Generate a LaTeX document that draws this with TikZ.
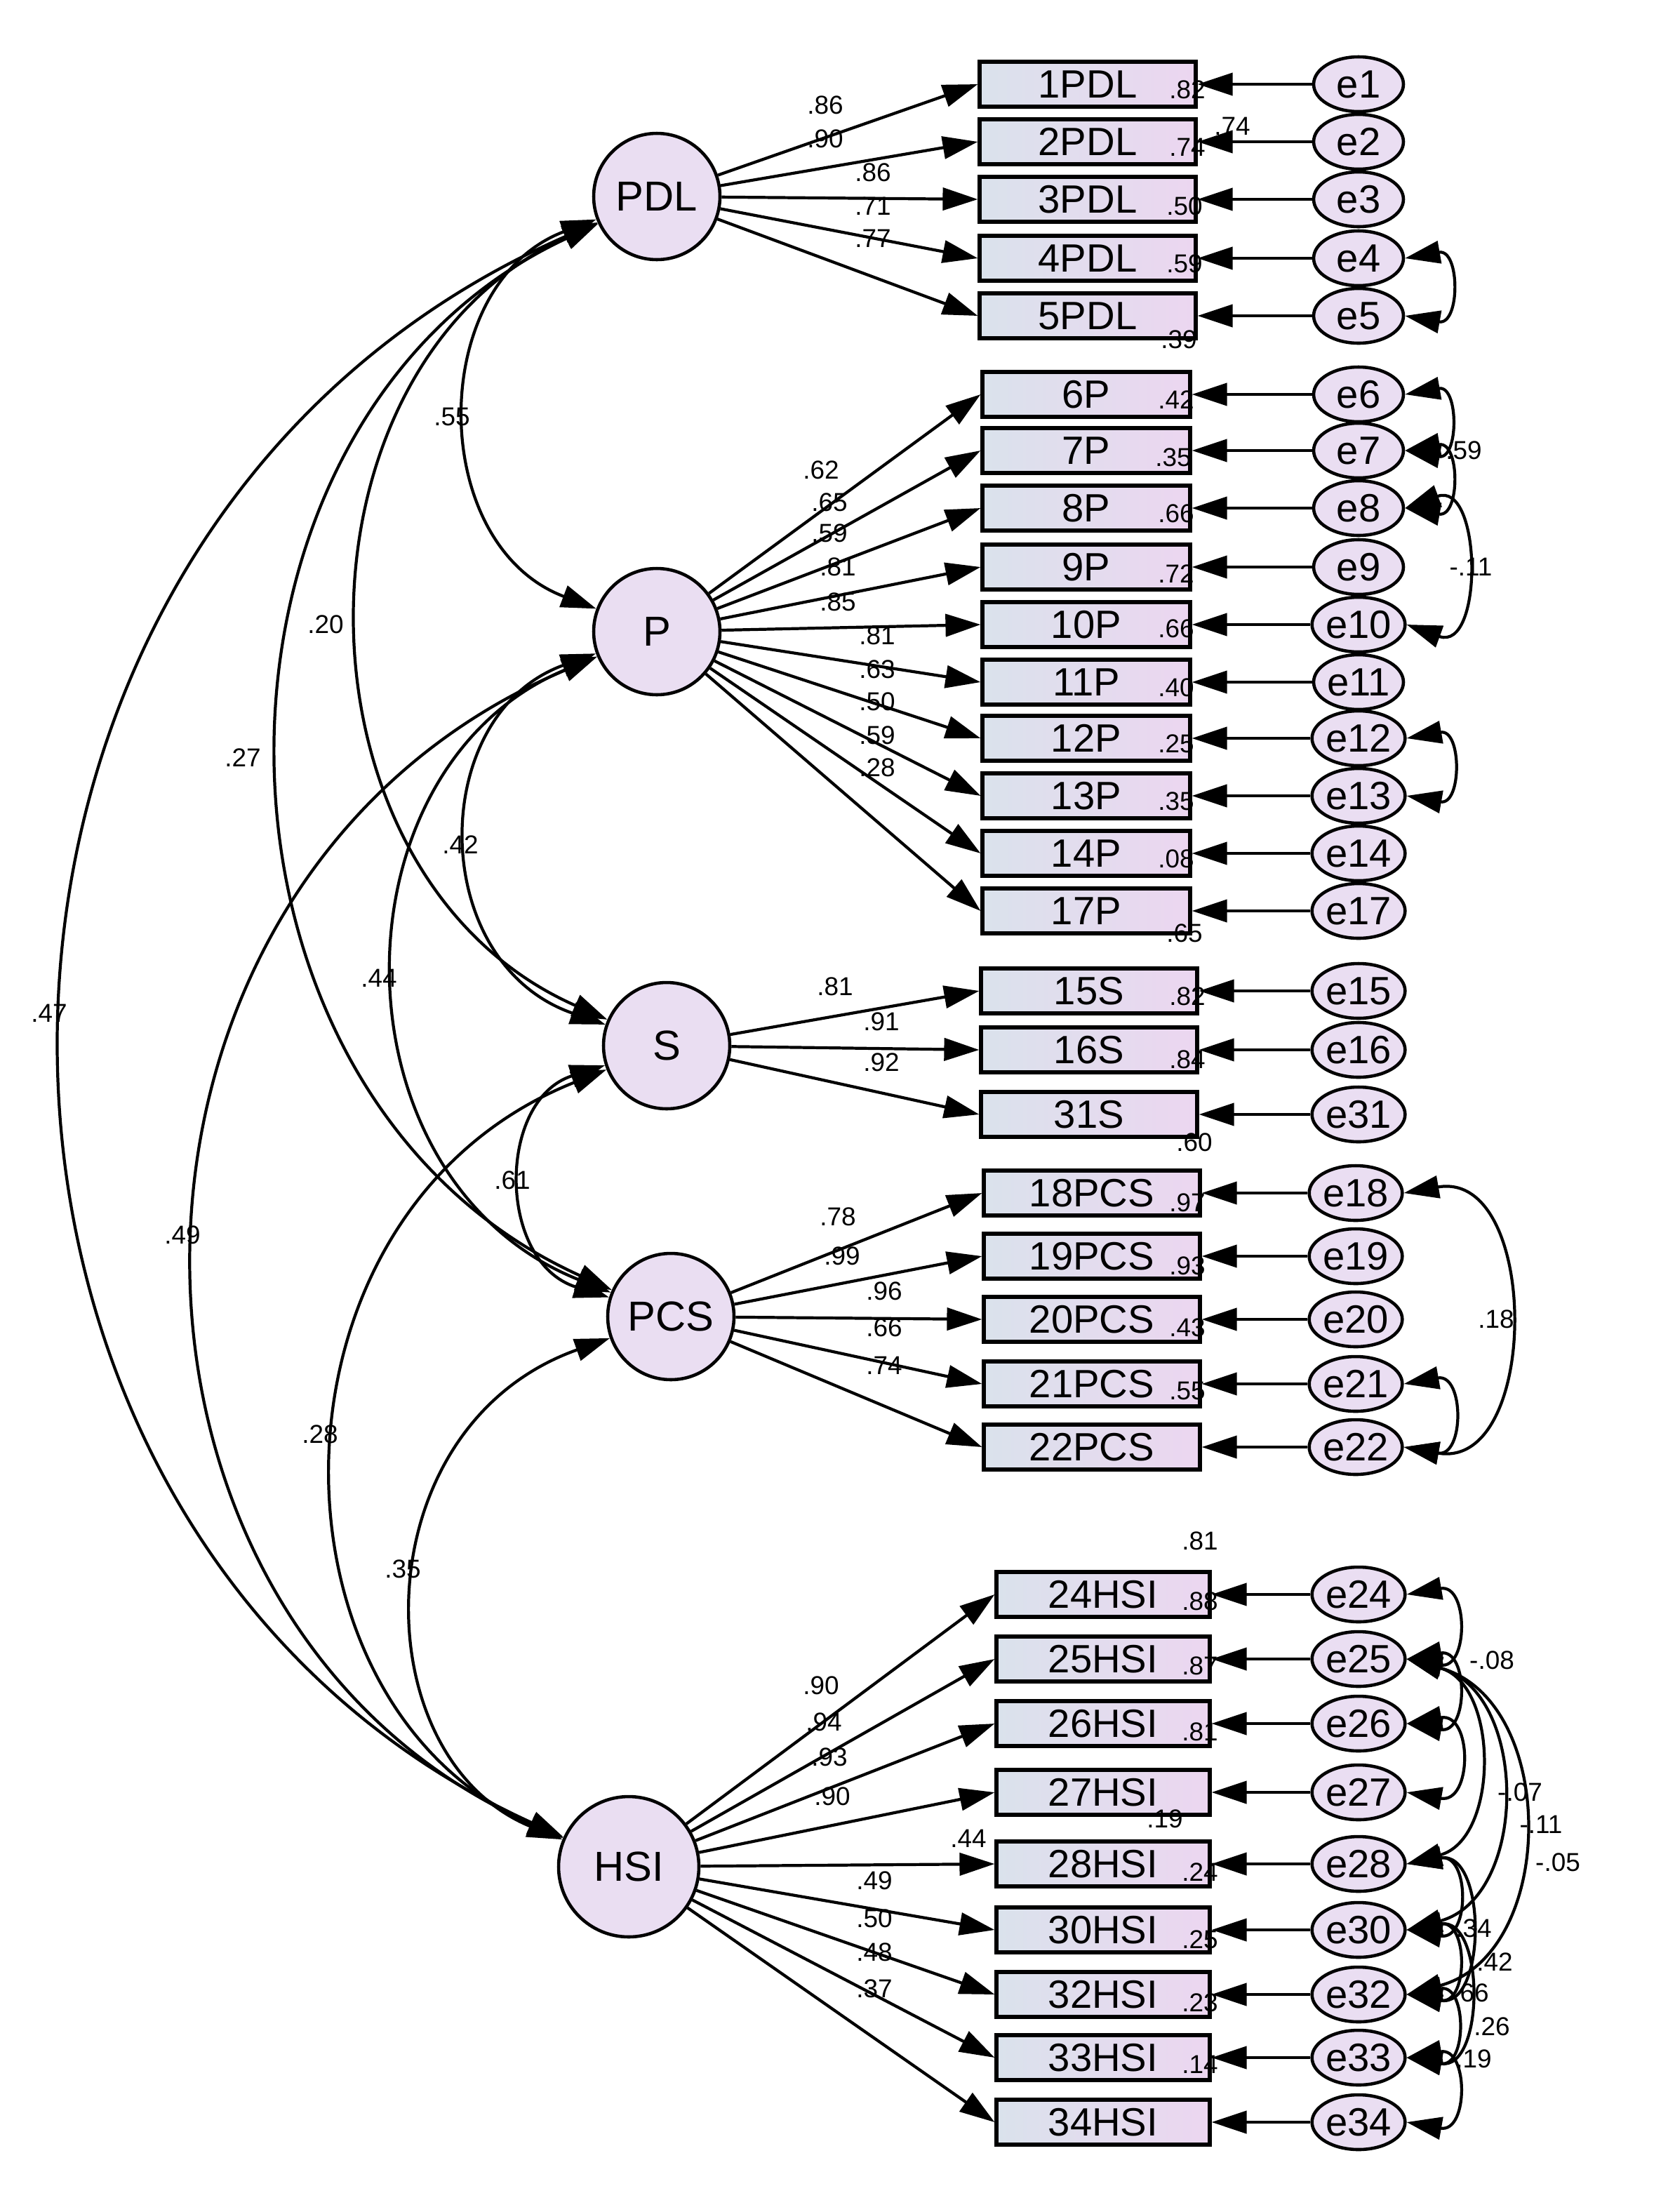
\documentclass[tikz,border=0pt]{standalone}
\usepackage{fontspec}
\setmainfont{Liberation Sans}
\usetikzlibrary{arrows.meta,shapes.geometric}
\definecolor{boxL}{RGB}{218,226,236}
\definecolor{boxR}{RGB}{236,214,240}
\definecolor{latfill}{RGB}{234,222,242}
\tikzset{
  obs/.style={draw, line width=1.5pt, minimum width=3.08cm, minimum height=0.64cm, left color=boxL, right color=boxR, font=\fontsize{16}{16}\selectfont, inner sep=0pt},
  err/.style={draw, ellipse, line width=1.3pt, fill=latfill, minimum width=1.28cm, minimum height=0.78cm, inner sep=0pt, font=\fontsize{16}{16}\selectfont},
  lat/.style={draw, circle, line width=1.3pt, fill=latfill, minimum size=1.8cm, inner sep=0pt, font=\fontsize{17}{17}\selectfont},
  load/.style={-{Triangle[length=0.5cm,width=0.32cm]}, line width=1.2pt},
  cov/.style={{Triangle[length=0.5cm,width=0.32cm]}-{Triangle[length=0.5cm,width=0.32cm]}, line width=1.2pt},
  val/.style={font=\fontsize{10.5}{10.5}\selectfont, inner sep=1pt}
}
\begin{document}
\begin{tikzpicture}[x=0.02cm, y=-0.02cm]
  \useasboundingbox (0,0) rectangle (1188,1576);
  % latent factors
  \node[lat] (PDL) at (468,140) {PDL};
  \node[lat] (P) at (468,450) {P};
  \node[lat] (S) at (475,745) {S};
  \node[lat] (PCS) at (478,938) {PCS};
  \node[lat, minimum size=2cm] (HSI) at (448,1330) {HSI};

  % indicators and errors
  \foreach \n/\y in {1/60,2/101,3/142,4/184,5/225} {
    \node[obs] (o\n) at (775,\y) {\n PDL};
    \node[err] (e\n) at (968,\y) {e\n};
    \draw[load] (e\n) -- (o\n);
    \draw[load] (PDL) -- (o\n.west);
  }
  \foreach \n/\y in {6/281,7/321,8/362,9/404,10/445,11/486,12/526,13/567,14/608,17/649} {
    \node[obs, minimum width=2.96cm] (o\n) at (774,\y) {\n P};
    \node[err] (e\n) at (968,\y) {e\n};
    \draw[load] (e\n) -- (o\n);
    \draw[load] (P) -- (o\n.west);
  }
  \foreach \n/\y in {15/706,16/748,31/794} {
    \node[obs] (o\n) at (776,\y) {\n S};
    \node[err] (e\n) at (968,\y) {e\n};
    \draw[load] (e\n) -- (o\n);
    \draw[load] (S) -- (o\n.west);
  }
  \foreach \n/\y in {18/850,19/895,20/940,21/986,22/1031} {
    \node[obs] (o\n) at (778,\y) {\n PCS};
    \node[err] (e\n) at (966,\y) {e\n};
    \draw[load] (e\n) -- (o\n);
    \draw[load] (PCS) -- (o\n.west);
  }
  \foreach \n/\y in {24/1136,25/1182,26/1228,27/1277,28/1328,30/1375,32/1421,33/1466,34/1512} {
    \node[obs, minimum width=3.04cm] (o\n) at (786,\y) {\n HSI};
    \node[err] (e\n) at (968,\y) {e\n};
    \draw[load] (e\n) -- (o\n);
    \draw[load] (HSI) -- (o\n.west);
  }

  % factor covariances
  \foreach \a/\b/\xc/\ya/\yb in {PDL/P/304/140/450, PDL/S/200/140/745, PDL/PCS/124/140/938,
      PDL/HSI/-76/140/1330, P/S/304/450/745, P/PCS/234/450/938, P/HSI/50/450/1330,
      S/PCS/354/745/938, S/HSI/181/745/1330, PCS/HSI/257/938/1330}
    \draw[cov] (\a) .. controls (\xc,{\ya+0.2*(\yb-\ya)}) and (\xc,{\yb-0.2*(\yb-\ya)}) .. (\b);
  \foreach \lx/\ly/\v in {322/297/.55, 232/445/.20, 173/540/.27, 35/722/.47, 328/602/.42, 270/697/.44,
      130/880/.49, 365/841/.61, 228/1022/.28, 287/1118/.35}
    \node[val] at (\lx,\ly) {\v};

  % error covariances
  \draw[cov] (e4.east) to[out=10, in=-10, looseness=2.5] (e5.east);
  \draw[cov] (e6.east) to[out=10, in=-10, looseness=2.5] (e7.east);
  \draw[cov] (e7.east) to[out=10, in=-10, looseness=2.5] (e8.east);
  \draw[cov] (e8.east) to[out=20, in=-20, looseness=1.8] (e10.east);
  \draw[cov] (e12.east) to[out=10, in=-10, looseness=2.5] (e13.east);
  \draw[cov] (e18.east) to[out=10, in=-10, looseness=1.4] (e22.east);
  \draw[cov] (e21.east) to[out=10, in=-10, looseness=2.5] (e22.east);
  \draw[cov] (e24.east) to[out=10, in=-10, looseness=2.5] (e25.east);
  \draw[cov] (e25.east) to[out=10, in=-10, looseness=2.5] (e26.east);
  \draw[cov] (e26.east) to[out=10, in=-10, looseness=2.5] (e27.east);
  \draw[cov] (e25.east) to[out=-15, in=15, looseness=1.2] (e28.east);
  \draw[cov] (e25.east) to[out=-15, in=15, looseness=1.2] (e30.east);
  \draw[cov] (e25.east) to[out=-15, in=15, looseness=1.2] (e32.east);
  \draw[cov] (e28.east) to[out=10, in=-10, looseness=2.5] (e30.east);
  \draw[cov] (e28.east) to[out=10, in=-10, looseness=1.6] (e32.east);
  \draw[cov] (e30.east) to[out=10, in=-10, looseness=2.5] (e32.east);
  \draw[cov] (e30.east) to[out=10, in=-10, looseness=1.6] (e33.east);
  \draw[cov] (e32.east) to[out=10, in=-10, looseness=2.5] (e33.east);
  \draw[cov] (e33.east) to[out=10, in=-10, looseness=2.5] (e34.east);

  % loadings
  \foreach \x/\y/\v in {588/75/.86, 588/99/.90, 622/123/.86, 622/147/.71, 622/170/.77,
      585/335/.62, 591/358/.65, 591/380/.59, 597/404/.81, 597/429/.85, 625/453/.81, 625/477/.63,
      625/500/.50, 625/524/.59, 625/547/.28, 595/703/.81, 628/728/.91, 628/757/.92,
      597/867/.78, 600/895/.99, 630/920/.96, 630/946/.66, 630/973/.74,
      585/1201/.90, 587/1227/.94, 591/1252/.93, 593/1280/.90, 690/1310/.44,
      623/1340/.49, 623/1367/.50, 623/1391/.48, 623/1417/.37}
    \node[val] at (\x,\y) {\v};
  % squared multiple correlations
  \foreach \x/\y/\v in {846/64/.82, 878/90/.74, 846/105/.74, 844/147/.50, 844/188/.59, 840/242/.39,
      838/285/.42, 836/326/.35, 838/366/.66, 838/409/.72, 838/448/.66, 838/490/.40, 838/530/.25,
      838/571/.35, 838/612/.08, 844/665/.65, 846/710/.82, 846/755/.84, 851/814/.60,
      846/857/.97, 846/902/.93, 846/946/.43, 846/991/.55,
      855/1098/.81, 855/1141/.88, 855/1187/.87, 855/1234/.81, 830/1296/.19,
      855/1334/.24, 855/1382/.25, 855/1427/.23, 855/1471/.14}
    \node[val] at (\x,\y) {\v};
  % error covariance values
  \foreach \x/\y/\v in {1043/321/.59, 1048/404/-.11, 1066/940/.18, 1063/1183/-.08, 1083/1277/-.07,
      1098/1300/-.11, 1110/1327/-.05, 1050/1374/.34, 1065/1398/.42, 1048/1420/.66,
      1063/1444/.26, 1050/1467/.19}
    \node[val] at (\x,\y) {\v};
\end{tikzpicture}
\end{document}
